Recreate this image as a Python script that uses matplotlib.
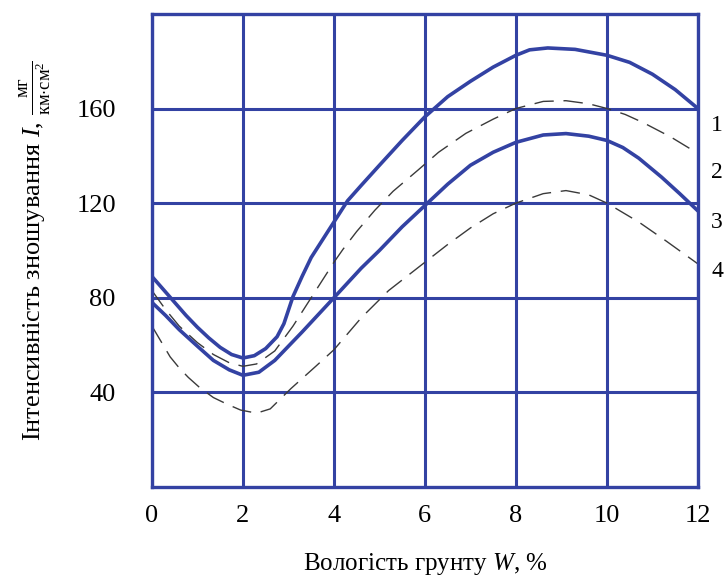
import matplotlib
matplotlib.use("Agg")
import matplotlib.pyplot as plt

plt.rcParams['font.family'] = ['Liberation Serif', 'DejaVu Serif']
plt.rcParams['mathtext.fontset'] = 'custom'
plt.rcParams['mathtext.rm'] = 'Liberation Serif'
plt.rcParams['mathtext.it'] = 'Liberation Serif:italic'

# curve 1 - upper solid
x1 = [0, 0.25, 0.5, 0.75, 1, 1.25, 1.5, 1.75, 2, 2.25, 2.5, 2.75, 2.9, 3.1, 3.3, 3.5, 3.75,
      4, 4.3, 4.6, 5, 5.5, 6, 6.5, 7, 7.5, 8, 8.3, 8.7, 9.3, 10, 10.5, 11, 11.5, 12]
y1 = [89, 83.5, 78, 72.5, 67.5, 63, 59, 56, 54.5, 55.5, 58.5, 63.5, 69, 80.5, 89, 97, 104.5,
      112, 121, 127.5, 136, 146.5, 156.5, 165, 171.5, 177.5, 182.5, 184.8, 185.6, 185, 182.5, 179.5, 174.5, 168, 160]

# curve 2 - upper dashed
x2 = [0, 0.3, 0.6, 1, 1.35, 1.7, 2, 2.3, 2.7, 3.1, 3.5, 4, 4.2, 4.5, 4.9, 5.3, 5.85, 6.3,
      6.9, 7.5, 8, 8.6, 9.1, 9.6, 10, 10.4, 10.8, 11.4, 12]
y2 = [83, 75, 68, 61, 56, 52.5, 51, 52, 57.5, 68, 80, 95, 100.5, 108, 117, 125, 134, 141.5,
      149.5, 155.5, 160, 163, 163.3, 162, 160, 157.5, 154, 148, 141]

# curve 3 - lower solid
x3 = [0, 0.3, 0.6, 1, 1.35, 1.7, 2, 2.35, 2.7, 3.3, 4, 4.6, 5, 5.5, 6, 6.5, 7, 7.5, 8, 8.6,
      9.1, 9.6, 10, 10.35, 10.7, 11.2, 11.6, 12]
y3 = [78, 72.5, 66.5, 59.5, 53.5, 49.5, 47.2, 48.5, 53.5, 65.5, 80, 92.5, 100, 110, 119, 128,
      136, 141.5, 145.7, 148.8, 149.4, 148.3, 146.5, 143.5, 139, 131, 124, 116.7]

# curve 4 - lower dashed
x4 = [0, 0.2, 0.4, 0.6, 0.8, 1.05, 1.35, 1.65, 1.95, 2.3, 2.6, 3.05, 3.6, 4, 4.6, 5.2, 6,
      6.5, 7, 7.5, 8, 8.6, 9.1, 9.6, 10, 10.7, 11.3, 12]
y4 = [68, 61.5, 55, 50.3, 46.3, 42, 37.8, 35, 32.5, 31.2, 33, 41.5, 51, 58, 71.5, 83, 95,
      102.5, 109.5, 115.5, 120, 124, 125.3, 123.5, 120, 112, 104, 94.3]

curve_labels = ['1', '2', '3', '4']
label_y = [153, 133, 112, 91]

x_ticks = [0, 2, 4, 6, 8, 10, 12]
y_ticks = [40, 80, 120, 160]

blue = '#3342a3'
dash_col = '#3a3a3a'

fig = plt.figure(figsize=(7.27, 5.79), dpi=100)
ax = fig.add_axes([0.209, 0.159, 0.751, 0.817])

ax.set_xlim(0, 12)
ax.set_ylim(0, 200)
ax.set_xticks(x_ticks)
ax.set_yticks(y_ticks)
ax.grid(True, color=blue, linewidth=2.2)
ax.set_axisbelow(True)
for s in ax.spines.values():
    s.set_color(blue)
    s.set_linewidth(2.4)
ax.tick_params(length=0, labelsize=19)
ax.tick_params(axis='y', pad=26)
ax.tick_params(axis='x', pad=13)

ax.plot(x1, y1, color=blue, lw=2.6, solid_capstyle='round', solid_joinstyle='round')
ax.plot(x2, y2, color=dash_col, lw=1.0, dashes=(14, 7))
ax.plot(x3, y3, color=blue, lw=2.6, solid_capstyle='round', solid_joinstyle='round')
ax.plot(x4, y4, color=dash_col, lw=1.0, dashes=(14, 7))

for lab, yy in zip(curve_labels, label_y):
    ax.text(12.42, yy, lab, fontsize=17, ha='center', va='center', clip_on=False)

ax.set_xlabel('Вологість грунту $\\it{W}$, %', fontsize=18, labelpad=17)
ax.set_ylabel('Інтенсивність зношування $\\it{I}$, '
              '$\\frac{\\mathrm{мг}}{\\mathrm{км{\\cdot}см^2}}$',
              fontsize=19, labelpad=16)

fig.savefig('out.png', dpi=100)
